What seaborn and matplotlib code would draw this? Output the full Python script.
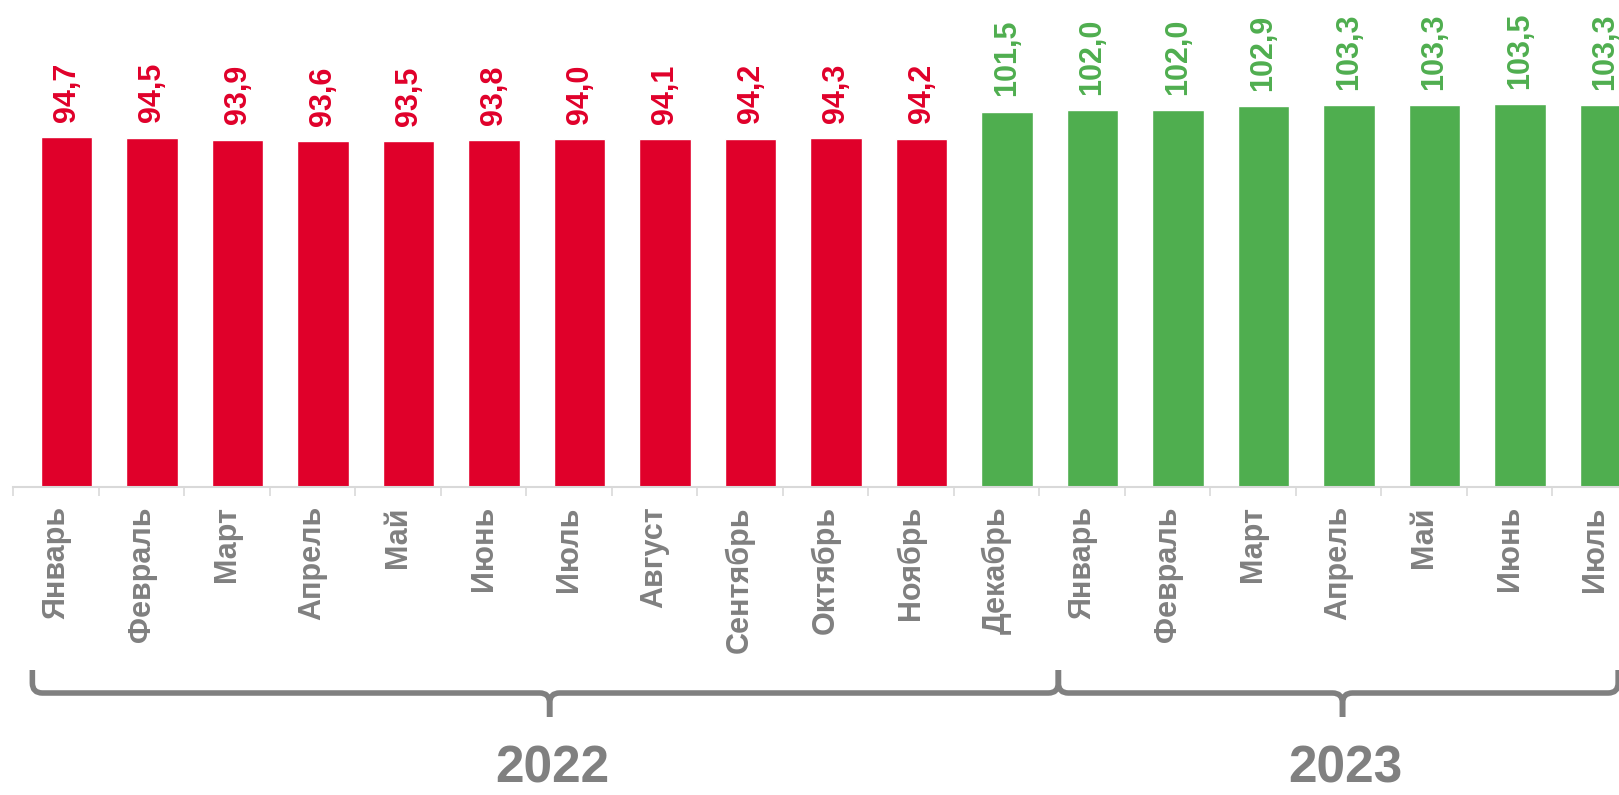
import pandas as pd
import numpy as np
import matplotlib.pyplot as plt
import matplotlib.transforms as mtransforms
from matplotlib.path import Path
from matplotlib.patches import PathPatch
import seaborn as sns

months = ['Январь', 'Февраль', 'Март', 'Апрель', 'Май', 'Июнь', 'Июль', 'Август',
          'Сентябрь', 'Октябрь', 'Ноябрь', 'Декабрь',
          'Январь', 'Февраль', 'Март', 'Апрель', 'Май', 'Июнь', 'Июль']
values = [94.7, 94.5, 93.9, 93.6, 93.5, 93.8, 94.0, 94.1, 94.2, 94.3, 94.2, 101.5,
          102.0, 102.0, 102.9, 103.3, 103.3, 103.5, 103.3]
years = ['2022'] * 12 + ['2023'] * 7
year_names = ['2022', '2023']

RED = '#E0002A'
GREEN = '#4FAE4F'
GRAY = '#808080'
LIGHT = '#D9D9D9'

sns.set_style('white')
plt.rcParams['font.family'] = ['Liberation Sans', 'DejaVu Sans']
plt.rcParams['font.weight'] = 'bold'

df = pd.DataFrame({'key': [f'{m} {y}' for m, y in zip(months, years)],
                   'month': months, 'value': values, 'year': years})
df['group'] = np.where(df['value'] >= 100, 'up', 'down')
palette = {'up': GREEN, 'down': RED}

W, H = 1619, 795
fig = plt.figure(figsize=(W / 100, H / 100), dpi=100)
ax = fig.add_axes([13.3 / W, 1 - 486.7 / H, 1 - 13.3 / W, 486.7 / H])

sns.barplot(data=df, x='key', y='value', hue='group', palette=palette,
            dodge=False, width=0.6, legend=False, ax=ax, saturation=1)

shift = 0.123  # labels/ticks sit a bit left of the bar centres
n = len(df)

ax.set_xticks(np.arange(n) - shift)
ax.set_xticklabels(months, rotation=90, fontsize=22, fontweight='bold', color=GRAY)
ax.set_xticks(np.arange(n + 1) - 0.5 - shift, minor=True)
ax.tick_params(axis='x', which='major', length=0, pad=14)
ax.tick_params(axis='x', which='minor', length=6.5, width=1.2, color=LIGHT, bottom=True)
ax.set_yticks([])
ax.set_xlabel('')
ax.set_ylabel('')
# limits after the ticks, set_xticks would widen them otherwise
ax.set_xlim(-0.5 - shift, -0.5 - shift + (W - 13.3) / 85.5)
ax.set_ylim(0, 486.7 / 3.695)
for s in ['top', 'right', 'left']:
    ax.spines[s].set_visible(False)
ax.spines['bottom'].set_color(LIGHT)
ax.spines['bottom'].set_linewidth(1.5)

# value labels
for i, (v, g) in enumerate(zip(df['value'], df['group'])):
    ax.annotate(f'{v:.1f}'.replace('.', ','), (i, v), xytext=(0, 11),
                textcoords='offset points', rotation=90, ha='center', va='bottom',
                fontsize=22, fontweight='bold', color=palette[g], annotation_clip=False)

# year braces
tr = mtransforms.blended_transform_factory(ax.transData, fig.transFigure)
y_top = 1 - 670 / H
y_line = 1 - 693 / H
y_cusp = 1 - 717 / H
ry = 10 / H
rx = 10 / 85.5
x_right_edge = ax.get_xlim()[1] - 0.01


def brace(x0, x1, xm):
    codes = [Path.MOVETO, Path.LINETO, Path.CURVE3, Path.CURVE3,
             Path.LINETO, Path.CURVE3, Path.CURVE3, Path.LINETO]
    left = [(x0, y_top), (x0, y_line + ry), (x0, y_line), (x0 + rx, y_line),
            (xm - rx, y_line), (xm, y_line), (xm, y_line - ry), (xm, y_cusp)]
    right = [(x1, y_top), (x1, y_line + ry), (x1, y_line), (x1 - rx, y_line),
             (xm + rx, y_line), (xm, y_line), (xm, y_line - ry), (xm, y_cusp)]
    for vv in (left, right):
        p = PathPatch(Path(vv, codes), transform=tr, fill=False, edgecolor=GRAY,
                      linewidth=4, capstyle='butt', joinstyle='round', clip_on=False)
        fig.add_artist(p)


for yr in year_names:
    idx = np.where(df['year'] == yr)[0]
    x0 = idx[0] - 0.4
    x1 = min(idx[-1] + 0.6, x_right_edge)
    xm = (x0 + x1) / 2 + 0.05
    brace(x0, x1, xm)
    fig.text(xm + 0.03, 1.5 / H, yr, transform=tr, ha='center', va='bottom',
             fontsize=37, fontweight='bold', color=GRAY)

fig.savefig('out.png', dpi=100)
